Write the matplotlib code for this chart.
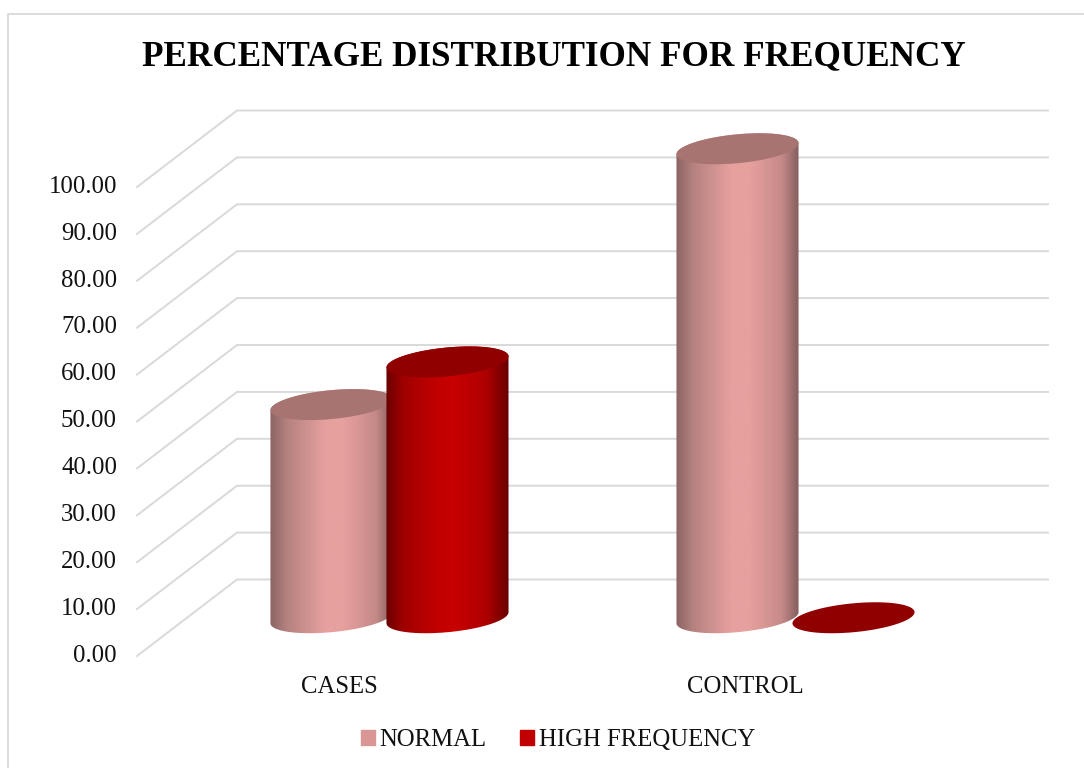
import numpy as np
from matplotlib import pyplot as plt
from matplotlib.colors import LinearSegmentedColormap
from matplotlib.lines import Line2D
from matplotlib.patches import Patch, PathPatch
from matplotlib.path import Path
from matplotlib.transforms import ScaledTranslation

categories = ["CASES", "CONTROL"]
normal = [45.45, 100.00]
high_frequency = [54.55, 0.00]
series_names = ["NORMAL", "HIGH FREQUENCY"]
y_ticks = [0, 10, 20, 30, 40, 50, 60, 70, 80, 90, 100]

W, H = 1084, 768
PX_PER_UNIT = 4.69
ZERO_Y = 656          # pixel row of value 0 on the front edge
WALL_LEFT = 237
WALL_RIGHT = 1048
DEPTH_X = 100         # slant of the floor, px
DEPTH_V = 76.5 / PX_PER_UNIT
FRONT_X = [339.5, 745.5]  # category label centres
BAR_GAP = 116
RADIUS_A, RADIUS_B, TILT = 61.3, 14.4, np.radians(5.5)

pink_map = LinearSegmentedColormap.from_list("pink3d", [
    (0.0, "#85605f"), (0.15, "#b58280"), (0.45, "#e6a09e"), (0.6, "#e6a09e"),
    (0.85, "#c58a88"), (1.0, "#7b5958")])
red_map = LinearSegmentedColormap.from_list("red3d", [
    (0.0, "#640000"), (0.15, "#a00000"), (0.4, "#c00000"), (0.55, "#c80000"),
    (0.8, "#b00000"), (1.0, "#620000")])
CAP_COLORS = ["#a87472", "#900000"]
SWATCH_COLORS = ["#da9694", "#c00000"]
GRID_COLOR = "#d9d9d9"

plt.rcParams["font.family"] = ["Liberation Serif", "DejaVu Serif"]


def EllipseXY(cx, v, t):
    # tilted ellipse outline in data units: px across, value units up
    ex = RADIUS_A * np.cos(t) * np.cos(TILT) - RADIUS_B * np.sin(t) * np.sin(TILT)
    ey = RADIUS_A * np.cos(t) * np.sin(TILT) + RADIUS_B * np.sin(t) * np.cos(TILT)
    return cx + ex, v + ey / PX_PER_UNIT


def DrawCylinder(ax, cx, value, cmap, capColor, zorder):
    base = DEPTH_V / 2
    top = base + value
    tRight = np.arctan2(RADIUS_B * -np.sin(TILT), RADIUS_A * np.cos(TILT))
    tAll = np.linspace(0, 2 * np.pi, 181)

    if value > 0:
        lowArc = np.linspace(tRight - np.pi, tRight, 91)
        upArc = np.linspace(tRight, tRight + np.pi, 91)
        bx, by = EllipseXY(cx, base, lowArc)
        tx, ty = EllipseXY(cx, top, upArc)
        verts = np.column_stack([np.r_[bx, tx], np.r_[by, ty]])
        body = PathPatch(Path(np.vstack([verts, verts[0]])), fc="none", ec="none",
                         transform=ax.transData)
        ax.add_patch(body)
        img = ax.imshow(np.linspace(0, 1, 256)[None, :], cmap=cmap, aspect="auto",
                        extent=(cx - RADIUS_A - 2, cx + RADIUS_A + 2,
                                base - 10, top + 10),
                        zorder=zorder, interpolation="bilinear")
        img.set_clip_path(body)

    cx_, cy_ = EllipseXY(cx, top, tAll)
    ax.fill(cx_, cy_, color=capColor, lw=0, zorder=zorder + 0.1)


fig = plt.figure(figsize=(W / 100, H / 100), dpi=100)
ax = fig.add_axes([0, 0, 1, 1])
ax.patch.set_alpha(0)

# chart border, only the top and left edges fall inside the canvas
fig.add_artist(Line2D([8 / W, 8 / W, 1], [0, 1 - 14 / H, 1 - 14 / H],
                      color=GRID_COLOR, lw=1.3))

# back wall and slanted floor lines
for v in y_ticks:
    ax.plot([WALL_LEFT - DEPTH_X, WALL_LEFT, WALL_RIGHT],
            [v, v + DEPTH_V, v + DEPTH_V], color=GRID_COLOR, lw=1.4, zorder=1,
            solid_joinstyle="miter")

for i, cat in enumerate(categories):
    centre = FRONT_X[i] + DEPTH_X / 2
    DrawCylinder(ax, centre - BAR_GAP / 2, normal[i], pink_map, CAP_COLORS[0], 2)
    DrawCylinder(ax, centre + BAR_GAP / 2, high_frequency[i], red_map, CAP_COLORS[1], 3)

ax.set_xlim(0, W)
ax.set_ylim((ZERO_Y - H) / PX_PER_UNIT, ZERO_Y / PX_PER_UNIT)

for s in ax.spines.values():
    s.set_visible(False)
ax.spines["left"].set_position(("data", 117))
ax.spines["bottom"].set_position(("data", 0))
ax.set_yticks(y_ticks, [f"{v:.2f}" for v in y_ticks], fontsize=17.8, color="#111111")
ax.set_xticks(FRONT_X, categories, fontsize=17.8, color="#111111")
ax.tick_params(axis="both", length=0)
ax.tick_params(axis="y", pad=0)
ax.tick_params(axis="x", pad=14.5)

# tick labels sit slightly above their floor lines
nudge = ScaledTranslation(0, 2 / 72, fig.dpi_scale_trans)
for lab in ax.get_yticklabels():
    lab.set_transform(lab.get_transform() + nudge)

fig.text(554 / W, 1 - 57 / H, "PERCENTAGE DISTRIBUTION FOR FREQUENCY",
         ha="center", va="center", fontsize=25.25, fontweight="bold", color="black")

handles = [Patch(color=c) for c in SWATCH_COLORS]
fig.legend(handles, series_names, loc="center", bbox_to_anchor=(558 / W, 1 - 740 / H),
           ncol=2, frameon=False, fontsize=17.8, handlelength=0.55, handleheight=0.55,
           handletextpad=0.2, columnspacing=1.35, labelcolor="#111111")

fig.savefig("out.png", dpi=100)
